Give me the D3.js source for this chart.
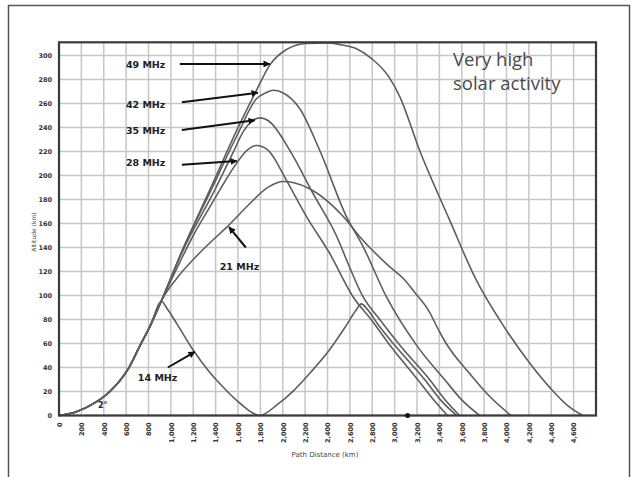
<!DOCTYPE html>
<html>
<head>
<meta charset="utf-8">
<script src="https://cdn.jsdelivr.net/npm/d3@7"></script>
<style>
	body { margin: 0; background: #fff; }
	text { font-family: "DejaVu Sans", sans-serif; }
</style>
</head>
<body>
<script>
// ray paths [path distance km, altitude km]
var mhz14 = [[0,0],[150,3],[337,11.5],[455,20],[620,39],[723,58],[812,74],[917,95],[960,90],[1050,77],[1196,55],[1330,38],[1464,24],[1620,10],[1795,0],
	[1950,9],[2100,21],[2250,36],[2420,55],[2560,74],[2650,87],[2702,93],[2760,88],[2850,76],[3015,57],[3268,30],[3420,12],[3555,0]];
var mhz21 = [[0,0],[150,3],[337,11.5],[455,20],[620,39],[723,58],[812,74],[917,96],[1050,114],[1200,130],[1350,144],[1500,157],[1700,176],[1850,189],[1950,194],[2003,195],
	[2100,194],[2241,189],[2539,166],[2688,149],[2955,124],[3080,114],[3193,101],[3300,88],[3400,70],[3461,60],[3670,35],[3848,16],[4040,0]];
var mhz28 = [[0,0],[150,3],[337,11.5],[455,20],[620,39],[723,58],[812,74],[917,96],[1050,122],[1200,150],[1350,174],[1438,188],[1571,208],[1680,221],[1765,225],
	[1870,221],[2033,196],[2211,166],[2420,135],[2628,99],[2790,80],[2970,57],[3205,30],[3350,13],[3473,0]];
var mhz35 = [[0,0],[150,3],[337,11.5],[455,20],[620,39],[723,58],[812,74],[917,96],[1100,136],[1393,188],[1550,218],[1650,237],[1720,245],[1795,248],[1880,245],
	[2063,221],[2271,185],[2479,150],[2600,123],[2717,99],[2850,82],[3060,57],[3312,30],[3460,12],[3580,0]];
var mhz42 = [[0,0],[150,3],[337,11.5],[455,20],[620,39],[723,58],[812,74],[917,96],[1100,137],[1360,188],[1600,235],[1765,264],[1850,269],[1914,271],[2000,269],
	[2150,256],[2330,221],[2568,166],[2717,141],[2926,99],[3208,57],[3446,30],[3600,13],[3760,0]];
var mhz49 = [[0,0],[150,3],[337,11.5],[455,20],[620,39],[723,58],[812,74],[917,96],[1100,137],[1348,188],[1616,243],[1765,271],[1884,292],[2033,305],[2211,310],
	[2400,310.5],[2518,309],[2650,306],[2800,297],[2950,282],[3045,266],[3223,221],[3491,163],[3729,113],[3950,78],[4205,44],[4400,22],[4550,8],[4680,0]];

var series = [mhz14, mhz21, mhz28, mhz35, mhz42, mhz49];

// frequency labels with arrows (data units)
var labels = [
	{t: '49 MHz', tx: 598, ty: 290, x1: 1080, y1: 293, x2: 1884, y2: 293},
	{t: '42 MHz', tx: 598, ty: 256, x1: 1098, y1: 261, x2: 1777, y2: 269},
	{t: '35 MHz', tx: 598, ty: 234.5, x1: 1098, y1: 238, x2: 1750, y2: 246},
	{t: '28 MHz', tx: 598, ty: 208, x1: 1098, y1: 209, x2: 1589, y2: 212},
	{t: '21 MHz', tx: 1437, ty: 121, x1: 1670, y1: 140, x2: 1520, y2: 157},
	{t: '14 MHz', tx: 705, ty: 29, x1: 973, y1: 40, x2: 1214, y2: 53}
];

var title_lines = ['Very high', 'solar activity'];

var x_ticks = d3.range(0, 4800, 200);
var y_ticks = d3.range(0, 320, 20);
var x_grid = d3.range(0, 4801, 200);

var x = d3.scaleLinear().domain([0, 4800]).range([59, 596]);
var y = d3.scaleLinear().domain([0, 311]).range([415.5, 42.3]);

var svg = d3.select('body').append('svg')
	.attr('width', 636)
	.attr('height', 477);

// outer frame
svg.append('rect')
	.attr('x', 8.5).attr('y', 5.5).attr('width', 621).attr('height', 485)
	.attr('fill', 'none').attr('stroke', '#555').attr('stroke-width', 1.5);

// grid
svg.append('g').selectAll('line').data(x_grid).enter().append('line')
	.attr('x1', d => x(d)).attr('x2', d => x(d))
	.attr('y1', y(311)).attr('y2', y(0))
	.attr('stroke', '#c6c6c6').attr('stroke-width', 1.5);
svg.append('g').selectAll('line').data(y_ticks).enter().append('line')
	.attr('x1', x(0)).attr('x2', x(4800))
	.attr('y1', d => y(d)).attr('y2', d => y(d))
	.attr('stroke', '#c6c6c6').attr('stroke-width', 1.5);

// axes
var xaxis = svg.append('g')
	.attr('transform', 'translate(0,' + y(0) + ')')
	.call(d3.axisBottom(x).tickValues(x_ticks).tickSize(0).tickPadding(0).tickFormat(d3.format(',')));
xaxis.select('.domain').remove();
xaxis.selectAll('text')
	.attr('transform', 'translate(0,7) rotate(-90)')
	.attr('dx', 0).attr('dy', '0.35em').attr('y', 0)
	.style('text-anchor', 'end')
	.style('font-size', '6.5px').style('font-weight', 'bold').attr('fill', '#333');

var yaxis = svg.append('g')
	.attr('transform', 'translate(' + x(0) + ',0)')
	.call(d3.axisLeft(y).tickValues(y_ticks).tickSize(0).tickPadding(7));
yaxis.select('.domain').remove();
yaxis.selectAll('text')
	.style('font-size', '6.5px').style('font-weight', 'bold').attr('fill', '#333');

// axis titles
svg.append('text').text('Path Distance (km)')
	.attr('x', 325).attr('y', 457)
	.attr('text-anchor', 'middle')
	.style('font-size', '7px').attr('fill', '#444');
svg.append('text').text('Altitude (km)')
	.attr('transform', 'translate(36,232) rotate(-90)')
	.attr('text-anchor', 'middle')
	.style('font-size', '6px').attr('fill', '#444');

// ray paths
var line = d3.line().x(d => x(d[0])).y(d => y(d[1])).curve(d3.curveMonotoneX);
svg.append('g').selectAll('path').data(series).enter().append('path')
	.attr('d', line)
	.attr('fill', 'none')
	.attr('stroke', '#5e5e5e')
	.attr('stroke-width', 1.6);

// plot frame
svg.append('rect')
	.attr('x', x(0)).attr('y', y(311))
	.attr('width', x(4800) - x(0)).attr('height', y(0) - y(311))
	.attr('fill', 'none').attr('stroke', '#3a3a3a').attr('stroke-width', 2.2);

// arrow marker
svg.append('defs').append('marker')
	.attr('id', 'head')
	.attr('viewBox', '0 0 10 10')
	.attr('refX', 9).attr('refY', 5)
	.attr('markerWidth', 3.5).attr('markerHeight', 3.5)
	.attr('orient', 'auto')
	.append('path').attr('d', 'M0,0L10,5L0,10z').attr('fill', '#111');

svg.append('g').selectAll('line').data(labels).enter().append('line')
	.attr('x1', d => x(d.x1)).attr('y1', d => y(d.y1))
	.attr('x2', d => x(d.x2)).attr('y2', d => y(d.y2))
	.attr('stroke', '#111').attr('stroke-width', 2)
	.attr('marker-end', 'url(#head)');

svg.append('g').selectAll('text').data(labels).enter().append('text')
	.text(d => d.t)
	.attr('x', d => x(d.tx)).attr('y', d => y(d.ty))
	.style('font-size', '9.5px').style('font-weight', 'bold')
	.attr('fill', '#222');

// launch angle and marker on the ground
svg.append('text').text('2°')
	.attr('x', x(348)).attr('y', y(6))
	.style('font-size', '8px').style('font-weight', 'bold').attr('fill', '#222');
svg.append('circle')
	.attr('cx', x(3116)).attr('cy', y(0)).attr('r', 2.5)
	.attr('fill', '#111');

// title, two lines
svg.append('g').selectAll('text').data(title_lines).enter().append('text')
	.text(d => d)
	.attr('x', 453).attr('y', (d, i) => 66 + i * 24)
	.style('font-family', '"Open Sans", sans-serif')
	.style('font-size', '18.5px').attr('fill', '#4a4a4a');
</script>
</body>
</html>
